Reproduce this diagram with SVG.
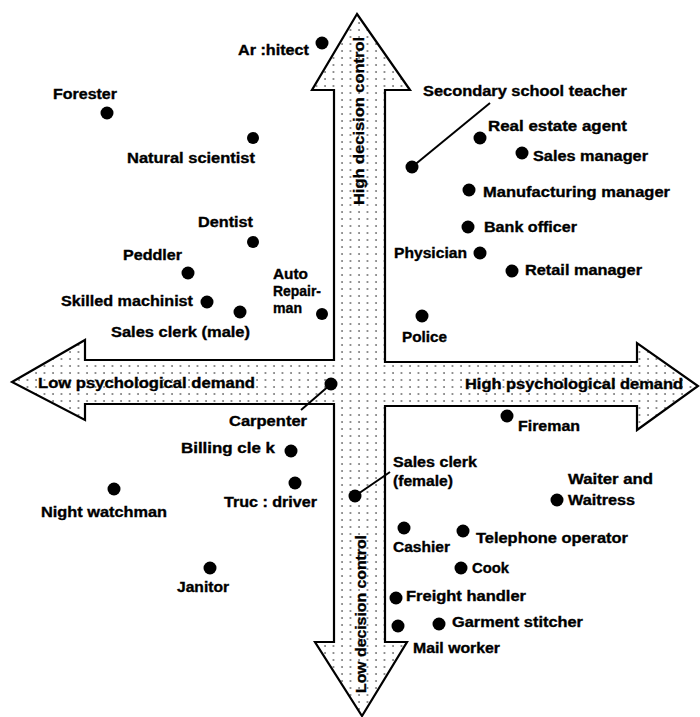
<svg xmlns="http://www.w3.org/2000/svg" width="700" height="717" viewBox="0 0 700 717">
<style>
text{font-family:"Liberation Sans",Arial,sans-serif;font-weight:bold;font-size:14.5px;fill:#000;stroke:#000;stroke-width:0.35}
.dot{fill:#000}
.lead{stroke:#000;stroke-width:2;fill:none}
.axis{font-size:14px}
</style>
<defs>
<pattern id="dots" width="8.5" height="7" patternUnits="userSpaceOnUse"><circle cx="2" cy="2" r="0.75" fill="#000"/></pattern>
</defs>
<rect width="700" height="717" fill="#fff"/>
<g id="cross">
<path d="M357,14 L410,90 L385,90 L385,362 L637,362 L637,343 L698,386 L637,430 L637,406 L385,406 L385,642 L407,642 L362,716 L315,642 L334,642 L334,404 L85,404 L85,420 L12,382 L85,340 L85,360 L334,360 L334,90 L312,90 Z" fill="url(#dots)" stroke="#000" stroke-width="2.2" stroke-linejoin="miter"/>
<text class="axis" x="38" y="388" textLength="217" lengthAdjust="spacingAndGlyphs">Low psychological demand</text>
<text class="axis" x="465" y="389" textLength="218" lengthAdjust="spacingAndGlyphs">High psychological demand</text>
<text class="axis" transform="translate(364,205) rotate(-90)" textLength="168" lengthAdjust="spacingAndGlyphs">High decision control</text>
<text class="axis" transform="translate(366,693) rotate(-90)" textLength="158" lengthAdjust="spacingAndGlyphs">Low decision control</text>
</g>
<g id="connectors">
<line class="lead" x1="412" y1="167" x2="490" y2="103"/>
<line class="lead" x1="331" y1="384" x2="301" y2="410"/>
<line class="lead" x1="355" y1="496" x2="390" y2="472"/>
</g>
<g id="architect"><circle class="dot" cx="322" cy="43" r="6.5"/><text x="238" y="55" textLength="71" lengthAdjust="spacingAndGlyphs">Ar :hitect</text></g>
<g id="forester"><circle class="dot" cx="107" cy="113" r="6.5"/><text x="53" y="99" textLength="64" lengthAdjust="spacingAndGlyphs">Forester</text></g>
<g id="natural-scientist"><circle class="dot" cx="253" cy="138" r="6"/><text x="127" y="163" textLength="128" lengthAdjust="spacingAndGlyphs">Natural scientist</text></g>
<g id="dentist"><circle class="dot" cx="253" cy="242" r="6"/><text x="198" y="227" textLength="55" lengthAdjust="spacingAndGlyphs">Dentist</text></g>
<g id="peddler"><circle class="dot" cx="188" cy="273" r="6.5"/><text x="123" y="260" textLength="59" lengthAdjust="spacingAndGlyphs">Peddler</text></g>
<g id="skilled-machinist"><circle class="dot" cx="207" cy="302" r="6.5"/><text x="61" y="306" textLength="132" lengthAdjust="spacingAndGlyphs">Skilled machinist</text></g>
<g id="sales-clerk-male"><circle class="dot" cx="240" cy="312" r="6.5"/><text x="111" y="337" textLength="139" lengthAdjust="spacingAndGlyphs">Sales clerk (male)</text></g>
<g id="auto-repairman"><circle class="dot" cx="322" cy="314" r="6"/><text x="273" y="279" textLength="35" lengthAdjust="spacingAndGlyphs">Auto</text><text x="273" y="296" textLength="48" lengthAdjust="spacingAndGlyphs">Repair-</text><text x="273" y="313" textLength="29" lengthAdjust="spacingAndGlyphs">man</text></g>
<g id="secondary-school-teacher"><circle class="dot" cx="412" cy="167" r="6.5"/><text x="423" y="96" textLength="204" lengthAdjust="spacingAndGlyphs">Secondary school teacher</text></g>
<g id="real-estate-agent"><circle class="dot" cx="480" cy="138" r="6.5"/><text x="488" y="131" textLength="139" lengthAdjust="spacingAndGlyphs">Real estate agent</text></g>
<g id="sales-manager"><circle class="dot" cx="522" cy="153" r="6.5"/><text x="533" y="161" textLength="115" lengthAdjust="spacingAndGlyphs">Sales manager</text></g>
<g id="manufacturing-manager"><circle class="dot" cx="469" cy="190" r="6.5"/><text x="483" y="197" textLength="187" lengthAdjust="spacingAndGlyphs">Manufacturing manager</text></g>
<g id="bank-officer"><circle class="dot" cx="468" cy="227" r="6.5"/><text x="484" y="232" textLength="93" lengthAdjust="spacingAndGlyphs">Bank officer</text></g>
<g id="physician"><circle class="dot" cx="480" cy="253" r="6.5"/><text x="394" y="258" textLength="73" lengthAdjust="spacingAndGlyphs">Physician</text></g>
<g id="retail-manager"><circle class="dot" cx="512" cy="271" r="6.5"/><text x="525" y="275" textLength="117" lengthAdjust="spacingAndGlyphs">Retail manager</text></g>
<g id="police"><circle class="dot" cx="422" cy="316" r="6.5"/><text x="402" y="342" textLength="45" lengthAdjust="spacingAndGlyphs">Police</text></g>
<g id="fireman"><circle class="dot" cx="507" cy="416" r="6.5"/><text x="518" y="431" textLength="62" lengthAdjust="spacingAndGlyphs">Fireman</text></g>
<g id="carpenter"><circle class="dot" cx="331" cy="384" r="6.5"/><text x="229" y="426" textLength="78" lengthAdjust="spacingAndGlyphs">Carpenter</text></g>
<g id="billing-clerk"><circle class="dot" cx="291" cy="451" r="6.5"/><text x="181" y="453" textLength="94" lengthAdjust="spacingAndGlyphs">Billing cle k</text></g>
<g id="truck-driver"><circle class="dot" cx="295" cy="483" r="6.5"/><text x="224" y="507" textLength="93" lengthAdjust="spacingAndGlyphs">Truc : driver</text></g>
<g id="night-watchman"><circle class="dot" cx="114" cy="489" r="6.5"/><text x="41" y="517" textLength="126" lengthAdjust="spacingAndGlyphs">Night watchman</text></g>
<g id="janitor"><circle class="dot" cx="210" cy="568" r="6.5"/><text x="177" y="592" textLength="52" lengthAdjust="spacingAndGlyphs">Janitor</text></g>
<g id="sales-clerk-female"><circle class="dot" cx="355" cy="496" r="6.5"/><text x="393" y="467" textLength="84" lengthAdjust="spacingAndGlyphs">Sales clerk</text><text x="393" y="486" textLength="60" lengthAdjust="spacingAndGlyphs">(female)</text></g>
<g id="waiter-waitress"><circle class="dot" cx="557" cy="500" r="6.5"/><text x="568" y="484" textLength="85" lengthAdjust="spacingAndGlyphs">Waiter and</text><text x="568" y="505" textLength="67" lengthAdjust="spacingAndGlyphs">Waitress</text></g>
<g id="cashier"><circle class="dot" cx="404" cy="528" r="6.5"/><text x="393" y="552" textLength="57" lengthAdjust="spacingAndGlyphs">Cashier</text></g>
<g id="telephone-operator"><circle class="dot" cx="463" cy="531" r="6.5"/><text x="476" y="543" textLength="152" lengthAdjust="spacingAndGlyphs">Telephone operator</text></g>
<g id="cook"><circle class="dot" cx="461" cy="568" r="6.5"/><text x="472" y="573" textLength="37" lengthAdjust="spacingAndGlyphs">Cook</text></g>
<g id="freight-handler"><circle class="dot" cx="396" cy="598" r="6.5"/><text x="406" y="601" textLength="120" lengthAdjust="spacingAndGlyphs">Freight handler</text></g>
<g id="garment-stitcher"><circle class="dot" cx="439" cy="624" r="6.5"/><text x="452" y="627" textLength="131" lengthAdjust="spacingAndGlyphs">Garment stitcher</text></g>
<g id="mail-worker"><circle class="dot" cx="398" cy="626" r="6.5"/><text x="413" y="653" textLength="87" lengthAdjust="spacingAndGlyphs">Mail worker</text></g>
</svg>
